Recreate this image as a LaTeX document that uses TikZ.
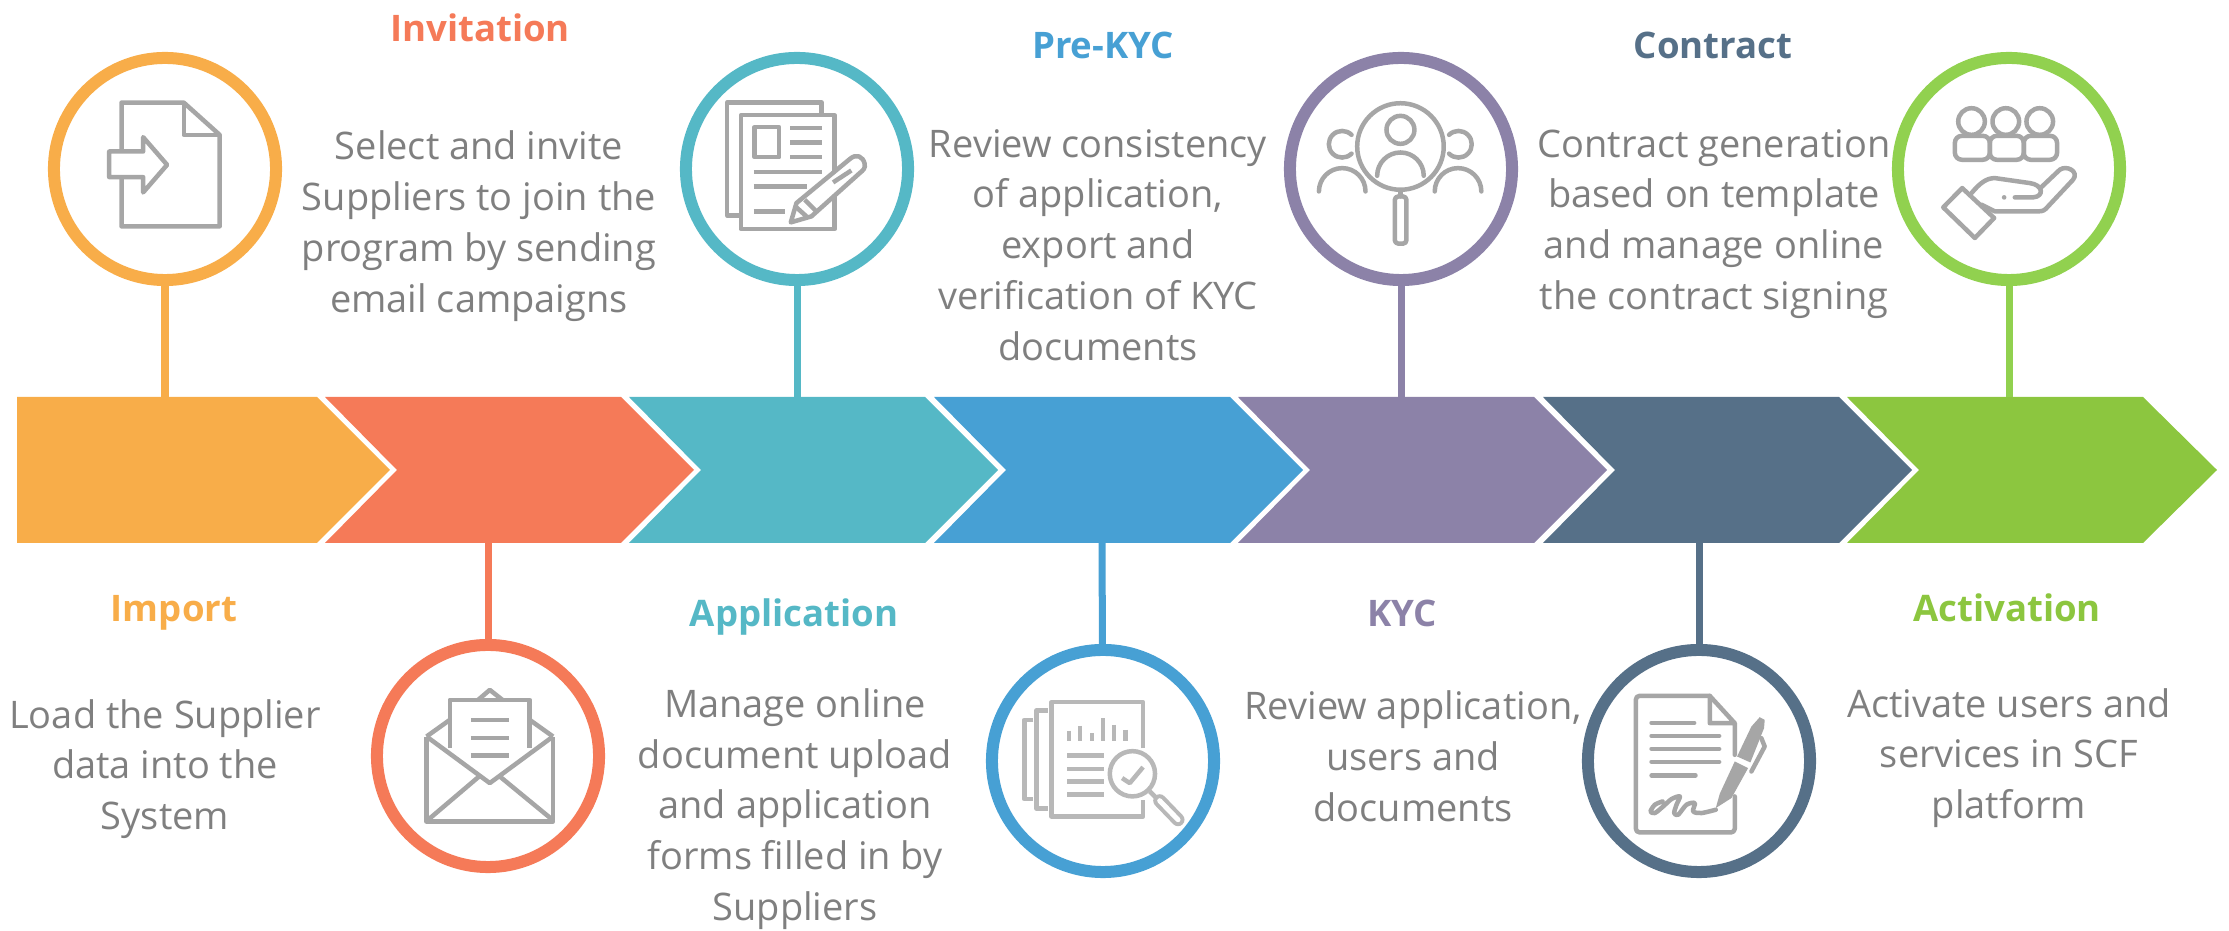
\documentclass[tikz,border=0pt]{standalone}
\usepackage{fontspec}
\setmainfont{Open Sans}
\definecolor{importcol}{HTML}{F8AD49}
\definecolor{invitecol}{HTML}{F57A58}
\definecolor{appcol}{HTML}{55B8C6}
\definecolor{prekyccol}{HTML}{47A0D4}
\definecolor{kyccol}{HTML}{8C82A8}
\definecolor{contractcol}{HTML}{567088}
\definecolor{activecol}{HTML}{8CC63F}
\definecolor{activering}{HTML}{91D14F}
\definecolor{iconcol}{HTML}{A6A6A6}
\definecolor{bodycol}{HTML}{7F7F7F}
\tikzset{
ring/.style={circle,draw,fill=white,line width=0.12cm,minimum size=2.22cm,inner sep=0pt},
stem/.style={line width=0.07cm},
title/.style={font=\fontsize{10.4}{14}\selectfont\bfseries,anchor=base,inner sep=0pt},
body/.style={font=\fontsize{10.8}{14.46}\selectfont,text=bodycol,align=center,inner sep=0pt},
icon/.style={iconcol,line width=0.045cm,line join=round},
zoomed/.style={x=0.00333cm,y=-0.00333cm}
}
\begin{document}
\begin{tikzpicture}[x=0.01cm,y=-0.01cm]
\useasboundingbox (0,0) rectangle (2229,931);

\fill[importcol]
(17,397) -- (317,397) -- (390,470) -- (317,543) -- (17,543) -- cycle;
\fill[invitecol]
(325,397) -- (621,397) -- (694,470) -- (621,543) -- (325,543) -- (397,470) -- cycle;
\fill[appcol]
(629,397) -- (925,397) -- (998,470) -- (925,543) -- (629,543) -- (701,470) -- cycle;
\fill[prekyccol]
(934,397) -- (1230,397) -- (1303,470) -- (1230,543) -- (934,543) -- (1006,470) -- cycle;
\fill[kyccol]
(1238,397) -- (1534,397) -- (1607,470) -- (1534,543) -- (1238,543) -- (1310,470) -- cycle;
\fill[contractcol]
(1543,397) -- (1839,397) -- (1912,470) -- (1839,543) -- (1543,543) -- (1615,470) -- cycle;
\fill[activecol]
(1847,397) -- (2143,397) -- (2217,470) -- (2143,543) -- (1847,543) -- (1919,470) -- cycle;

\node[ring,draw=importcol] (importring) at (165,169) {};
\node[ring,draw=invitecol] (invitering) at (488,756) {};
\node[ring,draw=appcol] (appring) at (797,169) {};
\node[ring,draw=prekyccol] (prekycring) at (1103,761) {};
\node[ring,draw=kyccol] (kycring) at (1401,169) {};
\node[ring,draw=contractcol] (contractring) at (1699,761) {};
\node[ring,draw=activering] (activatering) at (2009,169) {};

\coordinate (importfoot) at (165,397);
\coordinate (invitefoot) at (488,543);
\coordinate (appfoot) at (797,397);
\coordinate (prekycfoot) at (1102,543);
\coordinate (kycfoot) at (1401,397);
\coordinate (contractfoot) at (1699,543);
\coordinate (activatefoot) at (2009,397);

\draw[stem,importcol] (importring) -- (importfoot);
\draw[stem,invitecol] (invitering) -- (invitefoot);
\draw[stem,appcol] (appring) -- (appfoot);
\draw[stem,prekyccol] (prekycring) -- (prekycfoot);
\draw[stem,kyccol] (kycring) -- (kycfoot);
\draw[stem,contractcol] (contractring) -- (contractfoot);
\draw[stem,activering] (activatering) -- (activatefoot);

\node[title,importcol] (importtitle) at (174,622) {Import};
\node[title,invitecol] (invitetitle) at (480,42) {Invitation};
\node[title,appcol] (apptitle) at (794,627) {Application};
\node[title,prekyccol] (prekyctitle) at (1103,59) {Pre-KYC};
\node[title,kyccol] (kyctitle) at (1402,627) {KYC};
\node[title,contractcol] (contracttitle) at (1713,59) {Contract};
\node[title,activecol] (activatetitle) at (2007,622) {Activation};

\node[body] (importtext) at (165,769) {Load the Supplier\\data into the\\System};
\node[body] (invitetext) at (479,226) {Select and invite\\Suppliers to join the\\program by sending\\email campaigns};
\node[body] (apptext) at (795,809) {Manage online\\document upload\\and application\\forms filled in by\\Suppliers};
\node[body] (prekyctext) at (1098,245) {Review consistency\\of application,\\export and\\verification of KYC\\documents};
\node[body] (kyctext) at (1413,756) {Review application,\\users and\\documents};
\node[body] (contracttext) at (1714,224) {Contract generation\\based on template\\and manage online\\the contract signing};
\node[body] (activatetext) at (2009,758) {Activate users and\\services in SCF\\platform};

\begin{scope}[shift={(30,50)},zoomed,icon]
\draw
(275,300) -- (275,158) -- (462,158) -- (570,255) -- (570,530) -- (275,530) -- (275,385);
\draw
(462,158) -- (462,255) -- (570,255);
\draw
(238,305) -- (340,305) -- (340,262) -- (412,345) -- (340,428) -- (340,382) -- (238,382) -- cycle;
\end{scope}

\begin{scope}[shift={(660,40)},zoomed,icon]
\draw
(240,528) -- (202,528) -- (202,188) -- (485,188) -- (485,226);
\draw
(243,226) -- (525,226) -- (525,568) -- (243,568) -- cycle;
\draw
(284,262) -- (358,262) -- (358,352) -- (284,352) -- cycle;
\draw
(392,265) -- (488,265)
(392,308) -- (488,308)
(392,352) -- (488,352)
(282,397) -- (488,397)
(282,440) -- (442,440)
(282,515) -- (375,515);
\filldraw[fill=white]
(393,548) -- (410,490) -- (570,358) .. controls (590,340) and (610,350) .. (615,372) .. controls (618,385) and (610,392) .. (600,400) -- (455,530) -- cycle;
\draw
(435,480) -- (470,515)
(410,503) -- (440,530)
(520,428) -- (575,392);
\end{scope}

\begin{scope}[shift={(1270,40)},zoomed,icon,line cap=round]
\draw (392,320) circle (130);
\draw (392,270) circle (42);
\draw (322,408) arc (180:360:70);
\draw (245,285) arc (315:45:40);
\draw (147,455) arc (180:360:70);
\draw (538,285) arc (225:495:40);
\draw (495,455) arc (180:360:70);
\draw[rounded corners=1pt]
(375,470) -- (410,470) -- (410,612) -- (375,612) -- cycle;
\draw
(392,452) -- (392,470);
\end{scope}

\begin{scope}[shift={(1880,30)},zoomed,icon,line cap=round]
\draw[rounded corners=2pt]
(225,390) -- (225,318) -- (330,318) -- (330,390) -- cycle;
\draw[rounded corners=2pt]
(330,390) -- (330,318) -- (432,318) -- (432,390) -- cycle;
\draw[rounded corners=2pt]
(432,390) -- (432,318) -- (532,318) -- (532,390) -- cycle;
\filldraw[fill=white] (275,275) circle (40);
\filldraw[fill=white] (378,275) circle (40);
\filldraw[fill=white] (480,275) circle (40);
\draw
(190,533) -- (247,475) -- (343,565) -- (285,625) -- cycle;
\draw
(275,490) .. controls (300,460) and (320,445) .. (345,445) -- (450,460) .. controls (490,465) and (495,500) .. (460,503) -- (405,503);
\draw
(482,475) -- (540,420) .. controls (560,405) and (600,425) .. (580,450) -- (505,530) .. controls (495,542) and (490,545) .. (475,545) -- (345,545) -- (305,525);
\fill (373,503) circle (7);
\end{scope}

\begin{scope}[shift={(360,640)},zoomed,icon]
\draw
(200,290) -- (200,545) -- (580,545) -- (580,290);
\draw
(200,290) -- (390,430) -- (580,290);
\draw
(205,540) -- (358,410)
(578,540) -- (420,410)
(200,290) -- (270,240)
(580,290) -- (510,240);
\draw
(270,325) -- (270,180) -- (510,180) -- (510,325);
\draw
(355,180) -- (390,150) -- (428,180);
\draw
(333,241) -- (448,241)
(333,294) -- (448,294)
(333,347) -- (448,347);
\end{scope}

\begin{scope}[shift={(980,640)},zoomed,icon,iconcol!80]
\draw
(490,325) -- (490,187) -- (215,187) -- (215,530) -- (490,530) -- (490,480);
\draw
(203,212) -- (170,212) -- (170,507) -- (203,507)
(160,240) -- (133,240) -- (133,478) -- (160,478);
\draw
(267,272) -- (267,305)
(300,258) -- (300,305)
(336,280) -- (336,305)
(369,235) -- (369,305)
(403,255) -- (403,305)
(437,270) -- (437,305);
\draw
(262,347) -- (373,347)
(262,387) -- (373,387)
(262,425) -- (373,425)
(262,464) -- (373,464);
\draw (458,402) circle (68);
\draw (427,415) -- (450,430) -- (490,382);
\draw (510,455) -- (530,475);
\draw[line width=0.13cm,line cap=round] (540,483) -- (595,540);
\draw[white,line width=0.05cm,line cap=round] (540,483) -- (595,540);
\end{scope}

\begin{scope}[shift={(1580,640)},zoomed,icon,line cap=round]
\draw[rounded corners=1pt]
(390,168) -- (168,168) -- (168,578) -- (465,578) -- (465,470);
\draw
(465,250) -- (465,345)
(390,168) -- (390,250) -- (465,250)
(390,168) -- (465,250);
\draw
(215,249) -- (343,249)
(215,288) -- (418,288)
(215,327) -- (418,327)
(215,366) -- (418,366)
(215,407) -- (347,407);
\draw plot[smooth] coordinates {(248,485) (225,495) (212,515) (225,520) (250,500) (275,478) (300,470) (290,495) (283,520) (295,525) (320,495) (345,490) (340,515) (365,520) (408,510)};
\fill
(408,505) -- (420,462) -- (465,365) -- (505,385) -- (455,475) -- cycle;
\fill
(472,350) -- (515,260) -- (540,232) -- (555,240) -- (553,265) -- (512,368) -- cycle;
\draw
(545,295) -- (555,320) -- (515,395);
\end{scope}
\end{tikzpicture}
\end{document}
